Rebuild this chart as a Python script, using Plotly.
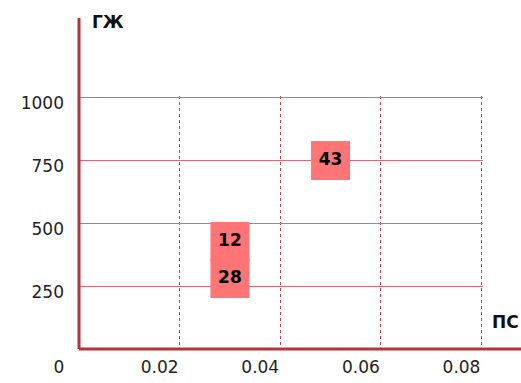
import plotly.graph_objects as go

# data
x_vals = [0.03, 0.03, 0.05]
y_vals = [427, 280, 748]
labels = ["12", "28", "43"]

x_ticks = [0, 0.02, 0.04, 0.06, 0.08]
x_ticktext = ["0", "0.02", "0.04", "0.06", "0.08"]
y_ticks = [250, 500, 750, 1000]
y_ticktext = ["250", "500", "750", "1000"]

x_title = "ПС"
y_title = "ГЖ"

FONT = "DejaVu Sans, Verdana, sans-serif"
AXIS_COLOR = "#B5343C"

fig = go.Figure()
fig.add_trace(go.Scatter(
    x=x_vals, y=y_vals, text=labels,
    mode="markers+text",
    marker=dict(symbol="square", size=39, color="#FF7575", line=dict(width=0)),
    textposition="middle center",
    textfont=dict(family=FONT, size=17, color="#000000", weight="bold"),
    hoverinfo="skip",
    showlegend=False,
    cliponaxis=False,
))

fig.update_layout(
    width=521, height=383,
    margin=dict(l=79, r=38, t=96, b=34, autoexpand=False),
    paper_bgcolor="white", plot_bgcolor="white",
    font=dict(family=FONT, size=17, color="#222222"),
    xaxis=dict(
        range=[0, 0.0803], tickvals=x_ticks, ticktext=x_ticktext,
        showgrid=True, gridcolor="#C24450", griddash="dot", gridwidth=1,
        zeroline=False, showline=False, ticks="", automargin=False,
        ticklabelshift=-20, ticklabelstandoff=6,
        tickfont=dict(family=FONT, size=17, color="#222222"),
    ),
    yaxis=dict(
        range=[0, 1004], tickvals=y_ticks, ticktext=y_ticktext,
        showgrid=True, gridcolor="#D86C74", gridwidth=1,
        zeroline=False, showline=False, ticks="", automargin=False,
        ticklabelshift=6, ticklabelstandoff=14,
        tickfont=dict(family=FONT, size=17, color="#222222"),
    ),
    shapes=[
        dict(type="line", xref="paper", yref="paper", x0=0, x1=1.12, y0=0, y1=0,
             line=dict(color=AXIS_COLOR, width=3), layer="above"),
        dict(type="line", xref="paper", yref="paper", x0=0, x1=0, y0=0, y1=1.308,
             line=dict(color=AXIS_COLOR, width=3), layer="above"),
    ],
    annotations=[
        dict(text=y_title, xref="paper", yref="paper", x=0.027, y=1.292,
             xanchor="left", yanchor="middle", showarrow=False,
             font=dict(family=FONT, size=17, color="#111111", weight="bold")),
        dict(text=x_title, xref="paper", yref="paper", x=1.0, y=0.107,
             xanchor="right", yanchor="middle", showarrow=False, xshift=38,
             font=dict(family=FONT, size=17, color="#111111", weight="bold")),
    ],
)

fig.write_html(
    "out.html",
    config={"displayModeBar": False, "staticPlot": True},
    post_script="document.body.style.margin='0';document.body.style.overflow='hidden';",
)
